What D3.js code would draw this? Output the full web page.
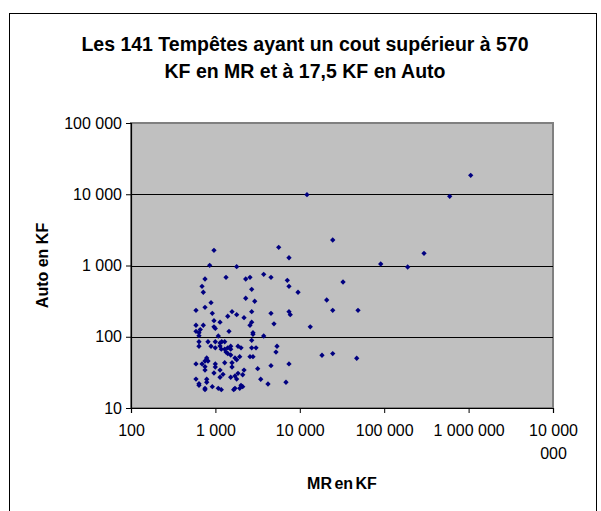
<!DOCTYPE html>
<html>
<head>
<meta charset="utf-8">
<script src="https://cdn.jsdelivr.net/npm/d3@7"></script>
<style>
  html, body { margin: 0; padding: 0; background: #fff; }
  svg { display: block; font-family: "Liberation Sans", Arial, sans-serif; }
</style>
</head>
<body>
<svg id="chart" width="601" height="511"></svg>
<script>
// Storms: property damage (MR) vs motor damage (Auto), both in KF
const mrKF = [
  962, 5623, 7447, 856, 1787, 753, 1336, 2286, 2570, 3734,
  4557, 7112, 694, 719, 2692, 7447, 9527, 887, 2286, 2923,
  589, 753, 919, 1573, 1787, 1400, 2183, 2692, 4557, 7447,
  7709, 962, 1134, 2692, 2570, 4943, 589, 719, 962, 997,
  662, 589, 639, 1449, 2787, 2787, 3734, 639, 1082, 639,
  817, 997, 1134, 1188, 1289, 2692, 639, 887, 997, 1134,
  1175, 1289, 1400, 1518, 1518, 1853, 2011, 2692, 3027, 5368,
  5222, 1336, 1400, 1518, 1941, 1706, 1787, 2570, 2787, 589,
  694, 753, 789, 817, 753, 997, 997, 1289, 1573, 1573,
  1134, 753, 3170, 4557, 7447, 2183, 962, 1231, 1134, 2106,
  1853, 1518, 1706, 1787, 589, 639, 639, 789, 789, 753,
  753, 919, 1082, 1175, 1648, 1706, 1941, 2106, 2011, 3443,
  4198, 6859, 12160, 24550, 32510, 20830, 24550, 48950, 13300, 18320,
  24550, 47230, 90970, 1059000, 597000, 296300, 189700
];
const autoKF = [
  1634, 1799, 1285, 1007, 962, 647, 682, 647, 682, 752,
  682, 620, 510, 421, 463, 510, 421, 301, 347, 315,
  235, 259, 213, 225, 204, 194, 185, 225, 213, 225,
  204, 168, 160, 160, 145, 152, 145, 145, 138, 131,
  126, 119, 114, 119, 114, 108, 102.5, 103.5, 102.5, 85,
  85, 85, 82, 85, 85, 89, 73.5, 73.5, 70, 74,
  67, 67, 70, 73.5, 67, 73.5, 70, 70, 70, 73.5,
  61, 61, 58, 55.5, 52.5, 50.3, 47.6, 52.5, 52.5, 41.5,
  41.5, 45.7, 50.3, 45.7, 38, 41.5, 37.6, 43.2, 43.2, 37.6,
  34.1, 34.1, 35.6, 39.3, 41.5, 34.1, 31, 29.7, 27, 29.3,
  30.7, 27, 28.1, 25.5, 25.5, 21.9, 20.8, 25.3, 23, 18.9,
  18.1, 19.9, 18.9, 18.1, 18.1, 18.9, 18.9, 19.9, 20.8, 25.3,
  21.7, 23, 9862, 2280, 587, 328, 235, 235, 138, 55,
  58, 49.9, 1050, 18450, 9354, 1483, 953
];
const xTicks = [100, 1e3, 1e4, 1e5, 1e6, 1e7];
const yTicks = [10, 100, 1e3, 1e4, 1e5];
const titleLines = ["Les 141 Tempêtes ayant un cout supérieur à 570", "KF en MR et à 17,5 KF en Auto"];
const xTitle = "MR en KF";
const yTitle = "Auto en KF";

const points = mrKF.map((v, i) => ({ mr: v, auto: autoKF[i] }));

// French-style grouping: thousands separated by a space
const fmt = v => d3.format(",")(v).replace(/,/g, " ");

const svg = d3.select("#chart");
const plot = { left: 131, top: 123, right: 553, bottom: 408 };

const x = d3.scaleLog().domain([100, 1e7]).range([plot.left, plot.right]);
const y = d3.scaleLog().domain([10, 1e5]).range([plot.bottom, plot.top]);

// Outer chart frame
svg.append("rect")
  .attr("x", 9.5).attr("y", 13.5)
  .attr("width", 587).attr("height", 520)
  .attr("fill", "#fff").attr("stroke", "#000").attr("stroke-width", 1);

// Title
const title = svg.append("text")
  .attr("text-anchor", "middle")
  .attr("font-size", 19.5).attr("font-weight", "bold").attr("fill", "#000");
titleLines.forEach((line, i) => {
  title.append("tspan").attr("x", 305).attr("y", 51 + i * 27).text(line);
});

// Plot area
svg.append("rect")
  .attr("x", plot.left).attr("y", plot.top)
  .attr("width", plot.right - plot.left).attr("height", plot.bottom - plot.top)
  .attr("fill", "#c0c0c0").attr("stroke", "#808080").attr("stroke-width", 2);

// Horizontal gridlines at each decade
svg.append("g").selectAll("line")
  .data(yTicks.filter(t => t > 10 && t < 1e5))
  .join("line")
  .attr("x1", plot.left).attr("x2", plot.right)
  .attr("y1", d => Math.round(y(d)) + 0.5).attr("y2", d => Math.round(y(d)) + 0.5)
  .attr("stroke", "#000").attr("stroke-width", 1);

// Axes
const xAxis = svg.append("g")
  .attr("transform", `translate(0,${plot.bottom})`)
  .call(d3.axisBottom(x).tickValues(xTicks).tickFormat(fmt).tickSize(5).tickPadding(12));
const yAxis = svg.append("g")
  .attr("transform", `translate(${plot.left},0)`)
  .call(d3.axisLeft(y).tickValues(yTicks).tickFormat(fmt).tickSize(5).tickPadding(4));

[xAxis, yAxis].forEach(g => {
  g.attr("font-family", null).attr("font-size", 16);
  g.select(".domain").attr("stroke", "#000").attr("stroke-width", 1.2);
  g.selectAll(".tick line").attr("stroke", "#000");
  g.selectAll(".tick text").attr("fill", "#000");
});

// The widest x label wraps onto two lines
xAxis.selectAll(".tick text").each(function(d) {
  if (d === 1e7) {
    const t = d3.select(this);
    const dy = t.attr("dy");
    t.text(null);
    t.append("tspan").attr("x", 0).attr("dy", dy).text("10 000");
    t.append("tspan").attr("x", 0).attr("dy", "1.4em").text("000");
  }
});

// Axis titles
svg.append("text")
  .attr("x", (plot.left + plot.right) / 2).attr("y", 489)
  .attr("text-anchor", "middle").attr("font-size", 16).attr("font-weight", "bold")
  .attr("word-spacing", -2)
  .text(xTitle);
svg.append("text")
  .attr("transform", `translate(48,${(plot.top + plot.bottom) / 2}) rotate(-90)`)
  .attr("text-anchor", "middle").attr("font-size", 16).attr("font-weight", "bold")
  .text(yTitle);

// Storm markers
svg.append("g").selectAll("path")
  .data(points)
  .join("path")
  .attr("transform", d => `translate(${x(d.mr)},${y(d.auto)})`)
  .attr("d", d3.symbol(d3.symbolDiamond2, 18))
  .attr("fill", "#000080");
</script>
</body>
</html>
